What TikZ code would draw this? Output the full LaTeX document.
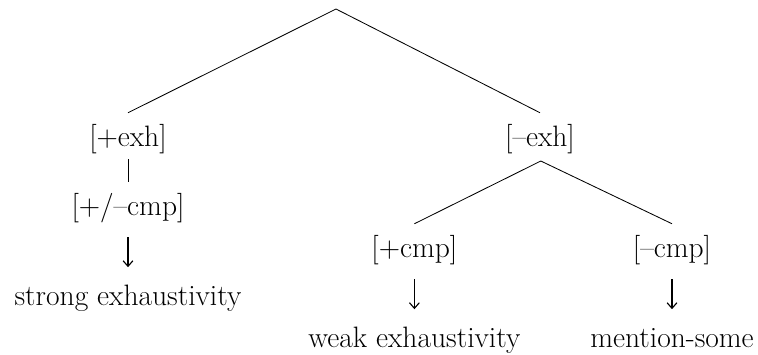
\documentclass[tikz,border=0pt]{standalone}
\usetikzlibrary{arrows.meta}
\tikzset{feat/.style={anchor=base,inner sep=0pt,text height=15.75pt,text depth=5.25pt,font=\fontsize{21}{25}\selectfont},
 res/.style={feat,text height=14.7pt},
 twig/.style={line width=0.6pt},
 dn/.style={line width=0.8pt,-{Straight Barb[length=4pt,width=7pt]},shorten >=12pt,shorten <=10.5pt}}
\newcommand{\branch}[2]{\draw[twig] (#1)--([yshift=7.7pt]#2.north);}

\begin{document}
\begin{tikzpicture}[x=1cm,y=1cm]
\useasboundingbox (0,0) rectangle (18.95,-8.85);
\coordinate(top) at(8.4,-0.225);
\node[feat](pe) at(3.2,-3.65){[+exh]};
\node[feat](me) at(13.5,-3.65){[--exh]};
\node[feat](pm) at(3.2,-5.375){[+/--cmp]};
\node[res](se) at(3.2,-7.625){strong exhaustivity};
\coordinate(fork) at(13.52,-4.025);
\node[feat](pc) at(10.36,-6.425){[+cmp]};
\node[feat](mc) at(16.8,-6.425){[--cmp]};
\node[res](we) at(10.36,-8.675){weak exhaustivity};
\node[res](ms) at(16.8,-8.675){mention-some};
\branch{top}{pe}\branch{top}{me}
\draw[twig,shorten <=4pt,shorten >=7.7pt](pe)--(pm);
\branch{fork}{pc}\branch{fork}{mc}
\draw[dn](pm)--(se);
\draw[dn](pc)--(we);
\draw[dn](mc)--(ms);
\end{tikzpicture}
\end{document}
